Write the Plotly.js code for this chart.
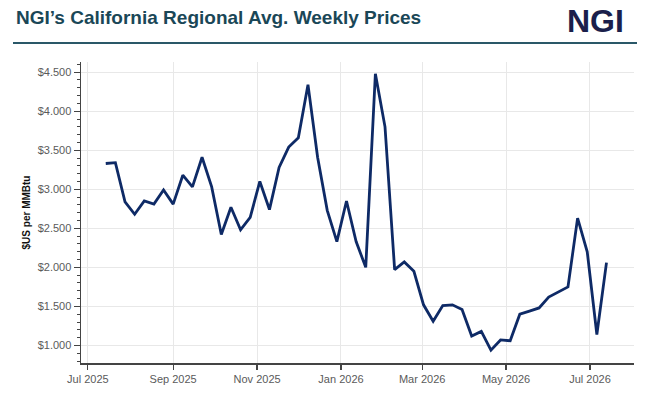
<!DOCTYPE html>
<html>
<head>
<meta charset="utf-8">
<script src="https://cdn.plot.ly/plotly-3.0.1.min.js"></script>
<style>
  html, body { margin: 0; padding: 0; background: #ffffff; }
  #chart { width: 650px; height: 398px; }
</style>
</head>
<body>
<div id="chart"></div>
<script>
// Weekly trade dates (Mondays)
const weekDates = [
  "2025-07-14", "2025-07-21", "2025-07-28",
  "2025-08-04", "2025-08-11", "2025-08-18", "2025-08-25",
  "2025-09-01", "2025-09-08", "2025-09-15", "2025-09-22", "2025-09-29",
  "2025-10-06", "2025-10-13", "2025-10-20", "2025-10-27",
  "2025-11-03", "2025-11-10", "2025-11-17", "2025-11-24",
  "2025-12-01", "2025-12-08", "2025-12-15", "2025-12-22", "2025-12-29",
  "2026-01-05", "2026-01-12", "2026-01-19", "2026-01-26",
  "2026-02-02", "2026-02-09", "2026-02-16", "2026-02-23",
  "2026-03-02", "2026-03-09", "2026-03-16", "2026-03-23", "2026-03-30",
  "2026-04-06", "2026-04-13", "2026-04-20", "2026-04-27",
  "2026-05-04", "2026-05-11", "2026-05-18", "2026-05-25",
  "2026-06-01", "2026-06-08", "2026-06-15", "2026-06-22", "2026-06-29",
  "2026-07-06", "2026-07-13"
];

// California regional average, $US per MMBtu
const avgPrice = [
  3.33, 3.34, 2.84,
  2.68, 2.85, 2.81, 2.99,
  2.81, 3.18, 3.03, 3.41, 3.03,
  2.42, 2.77, 2.48, 2.64,
  3.10, 2.74, 3.28, 3.54,
  3.66, 4.34, 3.41, 2.73, 2.33,
  2.85, 2.33, 2.00, 4.48,
  3.80, 1.97, 2.07, 1.95,
  1.52, 1.31, 1.51, 1.52, 1.46,
  1.12, 1.18, 0.94, 1.07,
  1.06, 1.40, 1.44, 1.48,
  1.62, 1.69, 1.75, 2.63, 2.20,
  1.14, 2.06
];

const chartTitle = "NGI\u2019s California Regional Avg. Weekly Prices";
const brandMark = "NGI";
const yAxisTitle = "$US per MMBtu";

const FONT = "Liberation Sans, Arial, sans-serif";

const trace = {
  type: "scatter",
  mode: "lines",
  x: weekDates,
  y: avgPrice,
  line: { color: "#0e2a66", width: 2.8 },
  hoverinfo: "x+y"
};

const layout = {
  width: 650,
  height: 398,
  paper_bgcolor: "#ffffff",
  plot_bgcolor: "#ffffff",
  margin: { l: 81, r: 16, t: 62, b: 35 },
  font: { family: FONT, color: "#555555", size: 11 },
  showlegend: false,
  title: {
    text: "<b>" + chartTitle + "</b>",
    x: 16 / 650,
    xanchor: "left",
    xref: "container",
    y: 1 - 17 / 398,
    yanchor: "middle",
    yref: "container",
    font: { family: FONT, size: 19, color: "#1a4757" }
  },
  xaxis: {
    type: "date",
    range: ["2025-06-26", "2026-08-02"],
    tick0: "2025-07-01",
    dtick: "M2",
    tickformat: "%b %Y",
    ticks: "outside",
    ticklen: 5,
    tickwidth: 1.2,
    tickcolor: "#444444",
    showline: true,
    linecolor: "#444444",
    linewidth: 1.5,
    showgrid: true,
    gridcolor: "#e8e8e8",
    gridwidth: 1,
    zeroline: false,
    tickfont: { family: FONT, size: 11, color: "#5a5a5a" }
  },
  yaxis: {
    range: [0.775, 4.63],
    tick0: 1,
    dtick: 0.5,
    tickformat: "$.3f",
    ticks: "outside",
    ticklen: 6,
    tickwidth: 1.2,
    tickcolor: "#444444",
    showline: true,
    linecolor: "#444444",
    linewidth: 1.5,
    showgrid: true,
    gridcolor: "#e8e8e8",
    gridwidth: 1,
    zeroline: false,
    minor: {
      dtick: 0.1,
      ticks: "outside",
      ticklen: 3,
      tickwidth: 1,
      tickcolor: "#444444",
      showgrid: false
    },
    tickfont: { family: FONT, size: 11, color: "#5a5a5a" },
    title: {
      text: "<b>" + yAxisTitle + "</b>",
      font: { family: FONT, size: 10, color: "#111111" },
      standoff: 5
    }
  },
  annotations: [
    {
      text: "<b>" + brandMark + "</b>",
      xref: "paper",
      yref: "paper",
      x: (626 - 81) / 553,
      xanchor: "right",
      y: (363 - 21) / 301,
      yanchor: "middle",
      showarrow: false,
      font: { family: FONT, size: 32, color: "#1b1f4b" }
    }
  ],
  shapes: [
    {
      type: "line",
      xref: "paper",
      yref: "paper",
      x0: (13 - 81) / 553,
      x1: (637 - 81) / 553,
      y0: (363 - 43) / 301,
      y1: (363 - 43) / 301,
      line: { color: "#2a5868", width: 2 }
    }
  ]
};

Plotly.newPlot("chart", [trace], layout, { displayModeBar: false, staticPlot: true });
</script>
</body>
</html>
